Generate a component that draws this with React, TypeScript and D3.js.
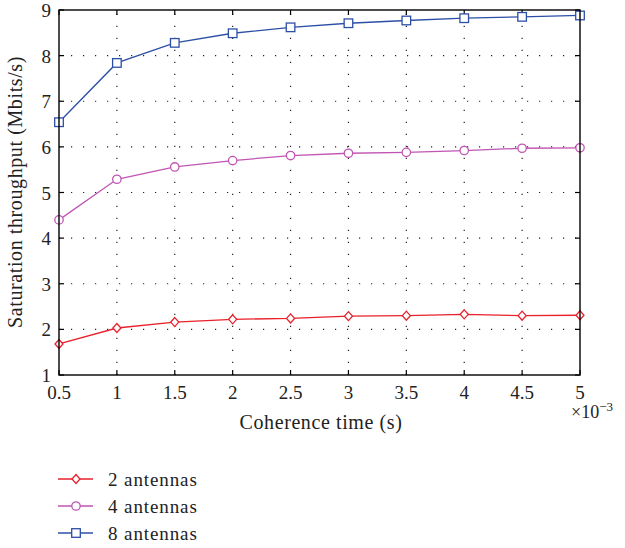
import React from "react";
import * as d3 from "d3";

// Coherence time in units of 1e-3 s
const coherenceTime = [0.5, 1, 1.5, 2, 2.5, 3, 3.5, 4, 4.5, 5];
// Saturation throughput (Mbits/s) per antenna count
const antennas2 = [1.68, 2.03, 2.16, 2.22, 2.24, 2.29, 2.3, 2.33, 2.3, 2.31];
const antennas4 = [4.4, 5.29, 5.56, 5.7, 5.81, 5.86, 5.88, 5.92, 5.97, 5.98];
const antennas8 = [6.54, 7.84, 8.28, 8.49, 8.62, 8.71, 8.77, 8.82, 8.85, 8.88];

const xTicks = [0.5, 1, 1.5, 2, 2.5, 3, 3.5, 4, 4.5, 5];
const yTicks = [1, 2, 3, 4, 5, 6, 7, 8, 9];
const seriesNames = ["2 antennas", "4 antennas", "8 antennas"];

const W = 625;
const H = 548;
const left = 59;
const right = 580;
const top = 10;
const bottom = 375;
const FONT = '"Liberation Serif", "Times New Roman", Times, "DejaVu Serif", serif';

type Marker = "diamond" | "circle" | "square";

function MarkerShape({ kind, x, y, color }: { kind: Marker; x: number; y: number; color: string }) {
  const sw = 1.3;
  if (kind === "diamond") {
    const p = `M${x},${y - 4.5}L${x + 4},${y}L${x},${y + 4.5}L${x - 4},${y}Z`;
    return <path d={p} fill="white" stroke={color} strokeWidth={sw} />;
  }
  if (kind === "circle") {
    return <circle cx={x} cy={y} r={4.2} fill="white" stroke={color} strokeWidth={sw} />;
  }
  return <rect x={x - 4.3} y={y - 4.3} width={8.6} height={8.6} fill="white" stroke={color} strokeWidth={sw} />;
}

export default function App() {
  const x = d3.scaleLinear().domain([0.5, 5]).range([left, right]);
  const y = d3.scaleLinear().domain([1, 9]).range([bottom, top]);
  const fmt = d3.format("");

  const series: { name: string; values: number[]; color: string; marker: Marker }[] = [
    { name: seriesNames[0], values: antennas2, color: "#e8212b", marker: "diamond" },
    { name: seriesNames[1], values: antennas4, color: "#c155b3", marker: "circle" },
    { name: seriesNames[2], values: antennas8, color: "#2c4fa6", marker: "square" },
  ];

  const line = d3
    .line<number>()
    .x((_, i) => x(coherenceTime[i]))
    .y((d) => y(d));

  const gridStyle = { stroke: "#222", strokeWidth: 1.2, strokeDasharray: "1.2 10.8" };
  const textStyle = { fontFamily: FONT };

  return (
    <svg
      width={W}
      height={H}
      style={{ position: "absolute", left: 0, top: 0, background: "white", fontFamily: FONT }}
    >
      {/* grid */}
      {xTicks.slice(1, -1).map((t) => (
        <line key={"gx" + t} x1={x(t)} x2={x(t)} y1={bottom} y2={top} {...gridStyle} />
      ))}
      {yTicks.slice(1, -1).map((t) => (
        <line key={"gy" + t} x1={left} x2={right} y1={y(t)} y2={y(t)} {...gridStyle} />
      ))}

      {/* ticks on all four sides, pointing inward */}
      {xTicks.map((t) => (
        <g key={"tx" + t} stroke="#000" strokeWidth={1.2}>
          <line x1={x(t)} x2={x(t)} y1={bottom} y2={bottom - 5} />
          <line x1={x(t)} x2={x(t)} y1={top} y2={top + 5} />
        </g>
      ))}
      {yTicks.map((t) => (
        <g key={"ty" + t} stroke="#000" strokeWidth={1.2}>
          <line x1={left} x2={left + 5} y1={y(t)} y2={y(t)} />
          <line x1={right} x2={right - 5} y1={y(t)} y2={y(t)} />
        </g>
      ))}

      {/* series */}
      {series.map((s) => (
        <g key={s.name}>
          <path d={line(s.values) || ""} fill="none" stroke={s.color} strokeWidth={1.3} />
          {s.values.map((v, i) => (
            <MarkerShape key={i} kind={s.marker} x={x(coherenceTime[i])} y={y(v)} color={s.color} />
          ))}
        </g>
      ))}

      {/* frame */}
      <rect x={left} y={top} width={right - left} height={bottom - top} fill="none" stroke="#000" strokeWidth={1.4} />

      {/* tick labels */}
      {xTicks.map((t) => (
        <text key={"lx" + t} x={x(t)} y={399} textAnchor="middle" fontSize={19} fill="#222" style={textStyle}>
          {fmt(t)}
        </text>
      ))}
      {yTicks.map((t) => (
        <text key={"ly" + t} x={51} y={y(t) + 7} textAnchor="end" fontSize={19} fill="#222" style={textStyle}>
          {fmt(t)}
        </text>
      ))}

      {/* exponent */}
      <text x={571} y={418} fontSize={18} fill="#222" style={textStyle}>
        ×10
        <tspan dy={-7} fontSize={13}>
          −3
        </tspan>
      </text>

      {/* axis titles */}
      <text x={321} y={429} textAnchor="middle" fontSize={20} fill="#222" style={{ ...textStyle, letterSpacing: 0.6 }}>
        Coherence time (s)
      </text>
      <text
        transform={`translate(22, ${192}) rotate(-90)`}
        textAnchor="middle"
        fontSize={20}
        fill="#222"
        style={{ ...textStyle, letterSpacing: 0.6 }}
      >
        Saturation throughput (Mbits/s)
      </text>

      {/* legend */}
      {series.map((s, i) => {
        const ly = 479 + i * 27;
        return (
          <g key={"lg" + s.name}>
            <line x1={58} x2={93} y1={ly} y2={ly} stroke={s.color} strokeWidth={1.3} />
            <MarkerShape kind={s.marker} x={76} y={ly} color={s.color} />
            <text x={108} y={ly + 7} fontSize={19} fill="#222" style={{ ...textStyle, letterSpacing: 0.9 }}>
              {s.name}
            </text>
          </g>
        );
      })}
    </svg>
  );
}
